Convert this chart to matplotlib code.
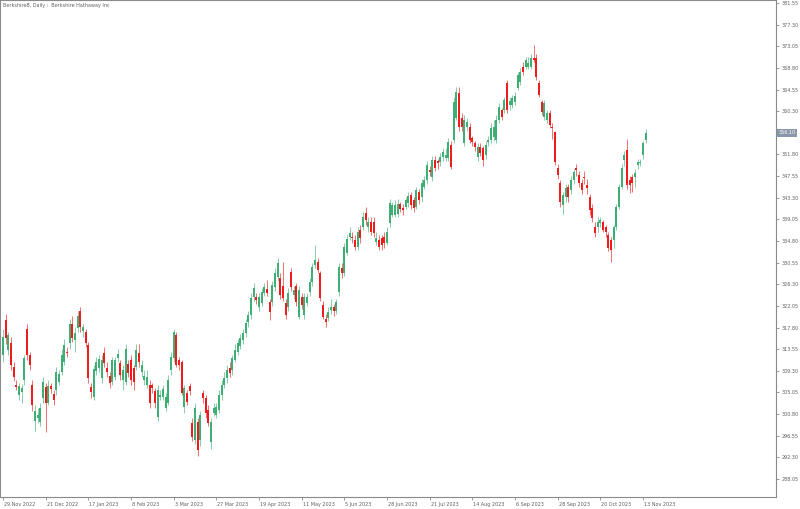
import matplotlib
matplotlib.use('Agg')
import matplotlib.pyplot as plt
import matplotlib.transforms as mtransforms

title = "BerkshireB, Daily :  Berkshire Hathaway Inc"

opens = [
    312.5, 319.3, 313.4, 314.8, 310.0, 306.5, 304.5, 305.1, 307.5, 317.5,
    312.4, 306.5, 299.4, 300.0, 299.2, 303.9, 306.1, 303.0, 306.3, 304.7,
    305.5, 307.1, 309.1, 311.0, 313.0, 314.8, 318.5, 315.4, 317.7, 321.1,
    317.1, 316.9, 314.4, 306.1, 304.2, 309.3, 309.9, 307.9, 312.8, 309.9,
    308.3, 307.1, 308.1, 311.8, 310.8, 307.5, 307.1, 310.6, 311.4, 309.9,
    310.0, 312.8, 309.0, 307.5, 306.5, 306.5, 306.5, 305.3, 300.2, 304.2,
    304.2, 302.0, 303.0, 309.5, 311.8, 316.3, 311.4, 311.0, 302.2, 305.0,
    306.3, 299.0, 295.7, 299.2, 295.7, 304.9, 303.9, 301.6, 295.3, 301.0,
    300.6, 301.6, 304.5, 306.5, 307.9, 309.9, 309.5, 311.4, 313.0, 314.2,
    315.3, 316.7, 318.9, 320.3, 323.8, 323.8, 321.8, 322.6, 324.6, 325.4,
    322.8, 322.8, 325.8, 327.7, 327.5, 325.9, 322.6, 321.8, 328.7, 324.2,
    326.0, 319.9, 323.8, 320.3, 322.6, 324.8, 326.8, 330.1, 330.7, 328.5,
    322.2, 319.5, 319.7, 321.2, 321.8, 321.0, 324.8, 329.5, 328.5, 332.4,
    335.6, 335.6, 335.0, 333.6, 337.0, 337.5, 340.3, 337.5, 338.5, 338.5,
    334.6, 335.0, 335.4, 335.6, 334.4, 338.3, 339.9, 340.0, 340.2, 342.0,
    341.3, 341.5, 342.2, 343.8, 342.8, 341.5, 344.4, 343.4, 345.4, 346.8,
    348.7, 347.4, 350.7, 350.5, 350.3, 351.3, 351.1, 351.1, 353.6, 354.6,
    359.0, 363.9, 358.9, 354.0, 357.2, 357.2, 355.0, 354.0, 351.3, 353.3,
    353.1, 351.7, 354.2, 354.6, 355.2, 354.6, 358.6, 360.5, 360.5, 365.8,
    361.5, 361.5, 362.1, 364.9, 366.0, 369.0, 369.0, 369.0, 369.0, 370.7,
    370.7, 365.8, 362.1, 359.2, 358.6, 359.9, 357.2, 356.2, 349.1, 346.2,
    341.9, 343.4, 345.4, 344.8, 346.8, 349.1, 347.8, 346.2, 347.4, 345.8,
    343.4, 341.3, 337.5, 337.5, 338.3, 338.5, 337.5, 335.9, 335.0, 335.0,
    337.5, 341.5, 345.4, 350.7, 352.7, 346.8, 347.4, 347.4, 349.7, 350.1,
    351.7, 354.6,
]

highs = [
    317.5, 320.5, 317.0, 316.0, 311.0, 307.5, 307.0, 306.8, 312.5, 318.5,
    313.0, 307.5, 302.5, 302.0, 303.0, 308.0, 307.0, 307.5, 307.0, 305.5,
    310.0, 309.5, 313.5, 315.5, 314.0, 319.5, 320.0, 318.0, 321.0, 321.8,
    318.5, 317.5, 315.0, 307.0, 310.5, 312.0, 312.5, 312.5, 314.0, 311.0,
    309.0, 312.0, 312.0, 313.5, 311.5, 310.5, 314.6, 311.5, 312.5, 310.5,
    314.5, 314.5, 311.5, 309.5, 309.5, 307.5, 307.0, 306.0, 306.5, 305.5,
    306.5, 305.0, 308.5, 313.0, 317.5, 317.0, 312.0, 311.5, 306.5, 305.5,
    307.0, 300.0, 303.0, 300.0, 301.5, 305.5, 304.5, 302.5, 300.0, 303.0,
    303.0, 305.5, 307.5, 309.0, 310.5, 311.0, 312.5, 314.5, 315.5, 316.5,
    317.5, 319.5, 321.0, 324.5, 326.5, 324.5, 324.5, 325.5, 326.5, 327.1,
    323.5, 327.0, 329.5, 331.5, 328.5, 330.7, 323.5, 325.5, 329.5, 326.0,
    326.5, 326.0, 324.5, 324.5, 324.5, 327.5, 330.5, 334.0, 331.5, 329.0,
    323.0, 320.5, 321.8, 323.5, 322.5, 323.5, 330.5, 330.5, 334.5, 336.0,
    337.5, 336.5, 336.0, 337.5, 338.0, 340.5, 341.5, 339.5, 339.5, 339.5,
    336.5, 336.0, 336.0, 336.5, 337.5, 343.0, 342.5, 342.8, 343.0, 342.5,
    342.0, 343.5, 344.5, 344.5, 343.5, 345.5, 345.0, 347.0, 347.5, 350.5,
    349.5, 351.5, 351.5, 351.0, 352.0, 353.0, 353.0, 355.0, 354.5, 363.0,
    365.0, 365.0, 360.0, 359.5, 359.0, 358.0, 355.5, 354.5, 354.0, 354.0,
    353.5, 354.5, 355.5, 358.0, 358.5, 359.5, 362.0, 361.0, 363.0, 366.5,
    363.0, 363.5, 364.0, 368.0, 368.8, 370.0, 371.0, 371.0, 371.5, 373.3,
    371.5, 366.5, 362.5, 362.5, 360.5, 360.5, 358.0, 356.5, 350.0, 346.8,
    344.5, 346.0, 346.0, 347.5, 349.0, 350.0, 348.5, 347.0, 348.5, 347.0,
    344.0, 342.0, 338.5, 339.5, 339.5, 339.0, 338.0, 336.5, 335.5, 338.0,
    342.0, 346.0, 350.0, 352.5, 354.8, 347.5, 348.0, 349.0, 351.0, 351.0,
    354.5, 356.8,
]

lows = [
    311.0, 314.5, 312.5, 309.5, 307.3, 305.5, 303.5, 303.0, 306.5, 311.5,
    309.5, 301.5, 297.5, 299.0, 298.5, 303.0, 297.2, 302.5, 305.0, 302.5,
    304.5, 306.5, 308.5, 310.5, 312.0, 313.5, 315.0, 313.0, 317.0, 317.0,
    316.0, 314.0, 307.0, 304.0, 303.5, 308.5, 309.0, 307.0, 310.0, 308.0,
    306.0, 306.5, 307.5, 311.0, 307.5, 305.5, 306.5, 308.0, 306.5, 305.5,
    309.5, 310.0, 308.0, 306.5, 306.0, 302.0, 305.0, 302.0, 299.5, 303.5,
    303.5, 301.5, 302.5, 308.5, 311.0, 310.0, 309.5, 304.5, 301.0, 302.5,
    304.5, 295.5, 295.0, 292.6, 294.5, 303.0, 300.0, 298.5, 294.0, 300.5,
    300.0, 301.0, 303.5, 306.0, 307.0, 308.0, 308.5, 311.0, 312.5, 313.5,
    314.5, 316.0, 318.0, 319.5, 323.0, 322.5, 321.0, 322.0, 324.0, 324.0,
    319.3, 322.0, 325.0, 327.0, 323.5, 323.0, 319.5, 321.0, 325.0, 323.5,
    322.0, 319.5, 321.5, 319.5, 322.0, 324.0, 326.0, 329.5, 328.5, 323.0,
    319.5, 318.0, 319.0, 320.5, 320.0, 320.5, 324.0, 327.5, 328.0, 332.0,
    335.0, 334.5, 333.0, 333.0, 334.5, 337.0, 338.0, 336.5, 336.0, 335.5,
    334.0, 333.0, 333.0, 333.5, 334.0, 337.5, 339.5, 339.5, 339.5, 340.5,
    340.0, 341.0, 341.5, 341.0, 340.5, 341.0, 342.0, 342.5, 345.0, 346.0,
    347.5, 346.5, 348.5, 349.0, 349.5, 350.5, 350.5, 350.5, 349.0, 354.0,
    358.5, 356.5, 356.5, 353.5, 356.5, 354.0, 353.5, 352.5, 350.5, 351.5,
    349.5, 351.0, 353.5, 354.0, 354.5, 354.0, 358.0, 358.5, 360.0, 360.0,
    360.5, 361.0, 361.5, 364.5, 365.5, 367.5, 368.5, 368.5, 368.5, 370.0,
    366.5, 363.0, 359.5, 358.5, 358.0, 357.0, 354.8, 349.8, 347.0, 341.5,
    340.2, 342.5, 342.5, 344.0, 346.0, 347.5, 345.5, 344.0, 346.0, 344.0,
    340.0, 338.5, 335.5, 336.5, 337.5, 336.5, 335.5, 332.8, 330.6, 333.5,
    337.0, 341.0, 345.0, 349.5, 345.0, 344.2, 344.5, 345.5, 349.0, 349.5,
    351.0, 354.0,
]

closes = [
    316.0, 315.7, 316.3, 310.4, 308.1, 306.1, 306.3, 305.9, 311.8, 312.4,
    310.4, 302.6, 301.4, 300.6, 302.0, 307.1, 303.0, 306.3, 305.7, 303.6,
    309.1, 308.7, 312.4, 314.4, 312.8, 318.5, 315.7, 316.7, 320.1, 317.9,
    317.9, 314.8, 307.9, 305.1, 309.7, 311.0, 311.6, 311.4, 310.8, 309.1,
    306.9, 311.4, 311.4, 312.6, 308.5, 309.5, 313.6, 308.9, 307.5, 307.1,
    313.4, 311.0, 310.4, 308.3, 308.1, 303.0, 305.9, 303.0, 305.5, 304.5,
    305.7, 304.2, 307.5, 312.0, 316.9, 310.4, 310.4, 304.9, 305.9, 303.2,
    305.3, 296.3, 302.0, 293.7, 300.6, 303.9, 301.0, 299.0, 299.2, 302.0,
    302.2, 304.5, 306.5, 307.9, 309.5, 308.9, 311.8, 313.4, 314.8, 315.7,
    316.7, 318.7, 320.3, 323.6, 325.6, 323.2, 323.8, 324.8, 325.8, 324.6,
    320.8, 326.2, 328.5, 330.5, 324.2, 323.6, 320.3, 324.6, 325.8, 325.2,
    322.8, 325.2, 322.2, 323.8, 323.8, 326.8, 329.7, 331.1, 329.1, 323.6,
    319.9, 318.9, 320.8, 321.8, 321.0, 322.8, 329.7, 328.5, 333.6, 335.2,
    336.4, 335.4, 333.6, 336.6, 335.4, 339.5, 338.9, 338.5, 336.6, 336.4,
    335.4, 333.6, 334.0, 334.4, 336.6, 342.3, 341.9, 341.8, 342.0, 341.0,
    340.9, 342.8, 343.6, 341.8, 341.3, 344.8, 342.8, 346.2, 346.8, 349.7,
    348.3, 350.7, 349.1, 350.1, 351.3, 352.3, 351.7, 354.2, 349.3, 362.1,
    364.1, 357.2, 357.2, 358.6, 358.2, 354.6, 354.2, 353.3, 353.3, 352.1,
    350.7, 353.7, 354.6, 357.0, 357.2, 358.6, 361.1, 359.2, 362.5, 360.5,
    362.3, 362.9, 363.3, 367.4, 368.0, 368.0, 370.4, 369.8, 370.7, 370.4,
    367.0, 363.5, 360.1, 361.9, 359.9, 357.6, 357.0, 350.3, 347.8, 342.5,
    343.8, 345.2, 343.4, 346.8, 348.3, 348.7, 346.2, 344.8, 347.2, 345.2,
    340.9, 339.3, 336.4, 338.5, 338.9, 337.0, 336.6, 333.4, 333.0, 337.5,
    341.5, 345.4, 349.1, 351.7, 345.8, 345.8, 346.2, 348.1, 350.3, 350.3,
    354.0, 356.1,
]

date_tick_bars = [0, 16, 32, 48, 64, 80, 96, 112, 128, 144, 160, 176, 192, 208, 224, 240]
date_tick_labels = ["29 Nov 2022", "21 Dec 2022", "17 Jan 2023", "8 Feb 2023",
                    "3 Mar 2023", "27 Mar 2023", "19 Apr 2023", "11 May 2023",
                    "5 Jun 2023", "28 Jun 2023", "21 Jul 2023", "14 Aug 2023",
                    "6 Sep 2023", "28 Sep 2023", "20 Oct 2023", "13 Nov 2023"]

price_ticks = [381.55, 377.30, 373.05, 368.80, 364.55, 360.30, 351.80,
               347.55, 343.30, 339.05, 334.80, 330.55, 326.30, 322.05, 317.80,
               313.55, 309.30, 305.05, 300.80, 296.55, 292.30, 288.05]

UP = '#3fae75'
DOWN = '#ee1c1c'
AXC = '#8a8a8a'
TXT = '#606060'
FS = 3.5

fig = plt.figure(figsize=(8, 5.09), dpi=100)
ax = fig.add_axes([0.0, 12 / 509, 776 / 800, 497 / 509])

idx = list(range(len(closes)))
colors = [UP if c >= o else DOWN for o, c in zip(opens, closes)]
bottoms = [min(o, c) for o, c in zip(opens, closes)]
heights = [max(abs(c - o), 0.2) for o, c in zip(opens, closes)]

ax.vlines(idx, lows, highs, colors=colors, linewidth=0.55, alpha=0.8)
ax.bar(idx, heights, bottom=bottoms, width=0.72, color=colors, linewidth=0)

ax.set_xlim(-1.125, 289.9)
ax.set_ylim(284.51, 382.14)

for s in ax.spines.values():
    s.set_color(AXC)
    s.set_linewidth(0.8)

ax.yaxis.tick_right()
ax.set_yticks(price_ticks)
ax.set_yticklabels([f"{p:.2f}" for p in price_ticks])
ax.tick_params(axis='y', direction='out', length=2.5, width=0.6, colors=AXC,
               labelsize=FS, labelcolor=TXT, pad=1.2)

ax.set_xticks(date_tick_bars)
ax.set_xticklabels(date_tick_labels)
ax.tick_params(axis='x', direction='out', length=2.5, width=0.6, colors=AXC,
               labelsize=FS, labelcolor=TXT, pad=1.0)
offset = mtransforms.ScaledTranslation(1 / 100, 0, fig.dpi_scale_trans)
for lbl in ax.get_xticklabels():
    lbl.set_horizontalalignment('left')
    lbl.set_transform(lbl.get_transform() + offset)

ax.text(0.004, 0.994, title, transform=ax.transAxes, va='top', ha='left',
        fontsize=FS, color=TXT)

last = closes[-1]
ax.annotate(f"{last:.2f}", xy=(1, last), xycoords=('axes fraction', 'data'),
            xytext=(1.6, 0), textcoords='offset points', va='center', ha='left',
            fontsize=FS, color='white', annotation_clip=False,
            bbox=dict(boxstyle='square,pad=0.3', fc='#8a97aa', ec='none'))

fig.savefig('out.png', dpi=100, facecolor='white')
